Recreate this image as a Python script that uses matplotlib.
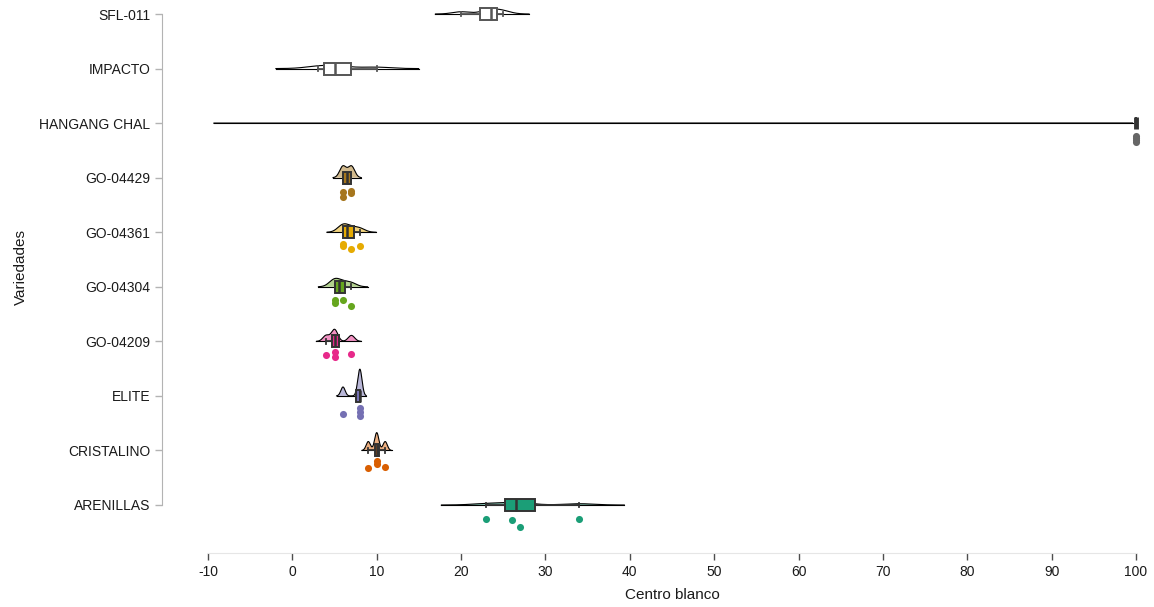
import numpy as np
import matplotlib
matplotlib.use("Agg")
from matplotlib import pyplot as plt

plt.rcParams['font.family'] = ['Liberation Sans', 'DejaVu Sans']
plt.rcParams['axes.unicode_minus'] = False

# categories, bottom to top
variedades = ["ARENILLAS", "CRISTALINO", "ELITE", "GO-04209", "GO-04304",
              "GO-04361", "GO-04429", "HANGANG CHAL", "IMPACTO", "SFL-011"]

arenillas = [23, 26, 27, 34]
cristalino = [9, 10, 10, 11]
elite = [6, 8, 8, 8]
go_04209 = [4, 5, 5, 7]
go_04304 = [5, 5, 6, 7]
go_04361 = [6, 6, 7, 8]
go_04429 = [6, 6, 7, 7]
hangang_chal = [100, 100, 100, 100]
impacto = [3, 4, 6, 10]
sfl_011 = [20, 23, 24, 25]

valores = [arenillas, cristalino, elite, go_04209, go_04304,
           go_04361, go_04429, hangang_chal, impacto, sfl_011]

# Dark2 palette, the last two groups had no colour
colores = ["#1B9E77", "#D95F02", "#7570B3", "#E7298A", "#66A61E",
           "#E6AB02", "#A6761D", "#666666", None, None]

# vertical jitter of the points below each box (px)
jitter_px = [[14, 15, 22, 14], [18, 11, 14, 17], [18, 12, 16, 20],
             [14, 11, 16, 13], [13, 16, 13, 19], [14, 12, 17, 14],
             [14, 19, 13, 15], [13, 15, 17, 19], [0, 0, 0, 0], [0, 0, 0, 0]]

LIM_LO, LIM_HI = -10, 100


def bw_nrd0(x):
    x = np.asarray(x, float)
    hi = x.std(ddof=1)
    q1, q3 = np.percentile(x, [25, 75])
    lo = min(hi, (q3 - q1) / 1.34)
    if not lo:
        lo = hi or abs(x[0]) or 1.0
    return 0.9 * lo * len(x) ** (-0.2)


def densidad(x):
    x = np.asarray(x, float)
    bw = bw_nrd0(x)
    grid = np.linspace(x.min() - 3 * bw, x.max() + 3 * bw, 512)
    d = np.exp(-0.5 * ((grid[:, None] - x[None, :]) / bw) ** 2).sum(1)
    d = d / (len(x) * bw * np.sqrt(2 * np.pi))
    keep = (grid >= LIM_LO) & (grid <= LIM_HI)
    return grid[keep], d[keep]


dens = [densidad(v) for v in valores]
dmax = max(d.max() for g, d in dens)

fig = plt.figure(figsize=(11.54, 6.07), dpi=100)
W, H = 1154, 607
px_x = (1136 - 208) / 110.0
px_y = (505 - 14) / 9.0
left = 208 - 5.5 * px_x
right = 1136 + 5.5 * px_x
top = 14 - 0.6 * px_y
ax = fig.add_axes([left / W, (H - 553) / H, (right - left) / W, (553 - top) / H])
ax.set_xlim(-15.5, 105.5)
ax.set_ylim(-(553 - 505) / px_y, 9.6)

for i, (v, (g, d)) in enumerate(zip(valores, dens)):
    c = colores[i]
    h = d / dmax * 0.49
    ax.fill_between(g, i, i + h, facecolor=c if c else "none", alpha=0.5,
                    lw=0, zorder=2)
    ax.plot(np.r_[g[0], g, g[-1]], np.r_[i, i + h, i], color="black", lw=0.8,
            zorder=2.5)
    ax.plot([g[0], g[-1]], [i, i], color="black", lw=0.8, zorder=2.5)

    borde = "#333333" if c else "#555555"
    bp = ax.boxplot([v], positions=[i], orientation='horizontal', widths=0.22,
                    showfliers=False, patch_artist=True, capwidths=0.09,
                    manage_ticks=False)
    for b in bp['boxes']:
        b.set_facecolor(c if c else "white")
        b.set_edgecolor(borde)
        b.set_linewidth(1.4)
        b.set_zorder(3)
    for k in ['whiskers', 'caps', 'medians']:
        for ln in bp[k]:
            ln.set_color(borde)
            ln.set_linewidth(1.3 if k != 'medians' else 1.8)
            ln.set_zorder(3.1)
    if min(v) == max(v):
        bp['medians'][0].set_linewidth(3.5)

    if c:
        yj = i - np.array(jitter_px[i]) / px_y
        ax.scatter(v, yj, s=26, color=c, lw=0, zorder=4, clip_on=False)

ax.set_yticks(range(len(variedades)))
ax.set_yticklabels(variedades)
ax.set_xticks(np.arange(-10, 101, 10))

for s in ['top', 'right']:
    ax.spines[s].set_visible(False)
ax.spines['left'].set_bounds(0, 9)
ax.spines['left'].set_color("#b3b3b3")
ax.spines['bottom'].set_bounds(-10, 100)
ax.spines['bottom'].set_color("#e6e6e6")
ax.tick_params(axis='y', length=5, width=1, color="#b3b3b3", labelsize=10,
               labelcolor="#1a1a1a", pad=3)
ax.tick_params(axis='x', length=5, width=1, color="#4d4d4d", labelsize=10,
               labelcolor="#1a1a1a", pad=4)

ax.set_xlabel("Centro blanco", fontsize=11, color="#1a1a1a", labelpad=6)
ax.set_ylabel("Variedades", fontsize=11, color="#1a1a1a", labelpad=8)

fig.savefig("out.png", dpi=100)
